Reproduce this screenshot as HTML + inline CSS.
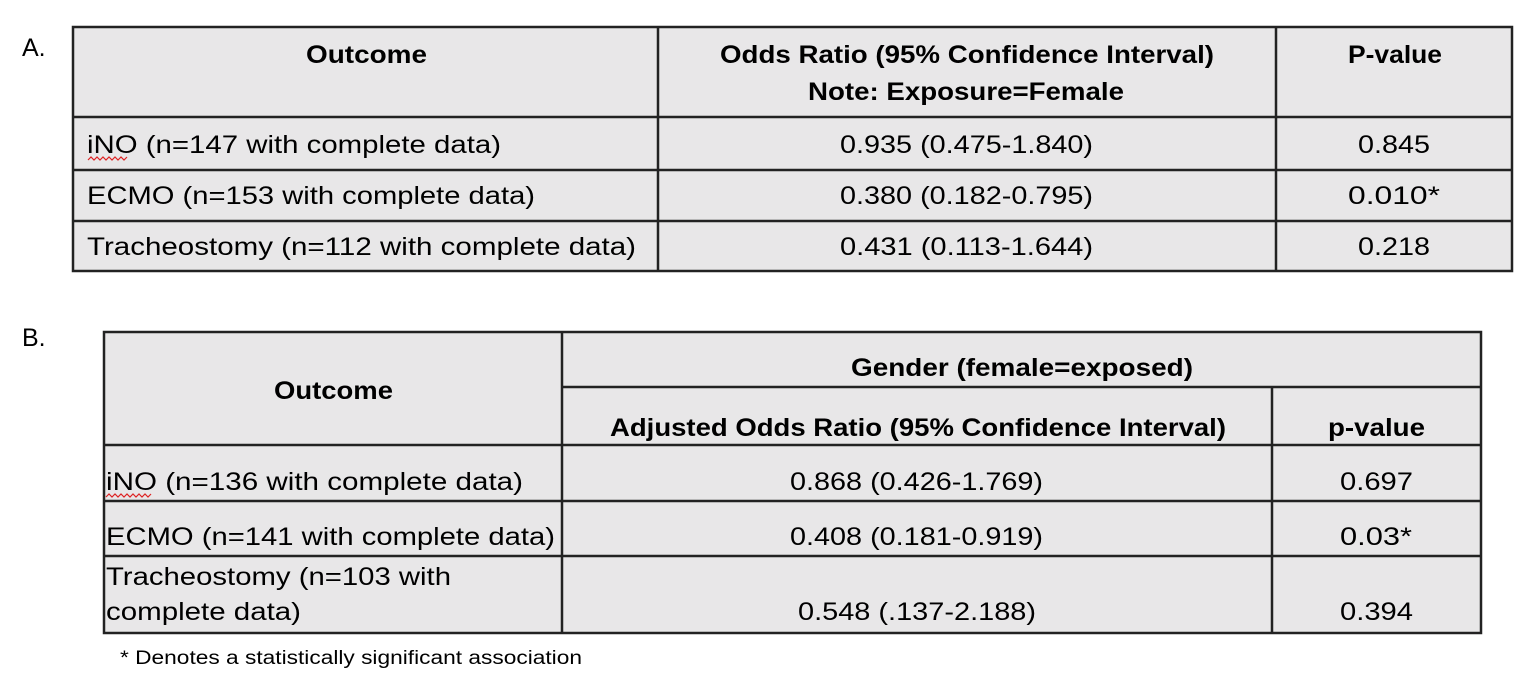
<!DOCTYPE html>
<html><head><meta charset="utf-8"><style>
html,body{margin:0;padding:0;background:#fff;}
svg{display:block;font-family:"Liberation Sans",Arial,sans-serif;}
.t{font-size:25px;fill:#000;}
.b{font-size:25px;font-weight:bold;fill:#000;}
</style></head><body>
<svg width="1532" height="696" viewBox="0 0 1532 696">
<rect width="1532" height="696" fill="#fff"/>
<text class="t" x="22" y="56">A.</text>
<g stroke="#222" stroke-width="2.5">
<rect x="73" y="27" width="1439" height="244" fill="#e8e7e8"/>
<line x1="73" y1="117" x2="1512" y2="117"/>
<line x1="73" y1="170" x2="1512" y2="170"/>
<line x1="73" y1="221" x2="1512" y2="221"/>
<line x1="658" y1="27" x2="658" y2="271"/>
<line x1="1276" y1="27" x2="1276" y2="271"/>
</g>
<g>
<text class="b" x="306" y="63" textLength="121" lengthAdjust="spacingAndGlyphs">Outcome</text>
<text class="b" x="720" y="63" textLength="494" lengthAdjust="spacingAndGlyphs">Odds Ratio (95% Confidence Interval)</text>
<text class="b" x="808" y="100" textLength="316" lengthAdjust="spacingAndGlyphs">Note: Exposure=Female</text>
<text class="b" x="1348" y="63" textLength="94" lengthAdjust="spacingAndGlyphs">P-value</text>
</g>
<g>
<text class="t" x="87" y="153" textLength="414" lengthAdjust="spacingAndGlyphs">iNO (n=147 with complete data)</text>
<text class="t" x="840" y="153" textLength="253" lengthAdjust="spacingAndGlyphs">0.935 (0.475-1.840)</text>
<text class="t" x="1358" y="153" textLength="72" lengthAdjust="spacingAndGlyphs">0.845</text>
<text class="t" x="87" y="204" textLength="448" lengthAdjust="spacingAndGlyphs">ECMO (n=153 with complete data)</text>
<text class="t" x="840" y="204" textLength="253" lengthAdjust="spacingAndGlyphs">0.380 (0.182-0.795)</text>
<text class="t" x="1348" y="204" textLength="92" lengthAdjust="spacingAndGlyphs">0.010*</text>
<text class="t" x="87" y="255" textLength="549" lengthAdjust="spacingAndGlyphs">Tracheostomy (n=112 with complete data)</text>
<text class="t" x="840" y="255" textLength="253" lengthAdjust="spacingAndGlyphs">0.431 (0.113-1.644)</text>
<text class="t" x="1358" y="255" textLength="72" lengthAdjust="spacingAndGlyphs">0.218</text>
<path d="M88 160 l3 -3 l3 3 l3 -3 l3 3 l3 -3 l3 3 l3 -3 l3 3 l3 -3 l3 3 l3 -3 l3 3 l3 -3" fill="none" stroke="#d22" stroke-width="1.2"/>
</g>

<text class="t" x="22" y="346">B.</text>
<g stroke="#222" stroke-width="2.5">
<rect x="104" y="332" width="1377" height="301" fill="#e8e7e8"/>
<line x1="562" y1="387" x2="1481" y2="387"/>
<line x1="104" y1="445" x2="1481" y2="445"/>
<line x1="104" y1="501" x2="1481" y2="501"/>
<line x1="104" y1="556" x2="1481" y2="556"/>
<line x1="562" y1="332" x2="562" y2="633"/>
<line x1="1272" y1="387" x2="1272" y2="633"/>
</g>
<g>
<text class="b" x="274" y="399" textLength="119" lengthAdjust="spacingAndGlyphs">Outcome</text>
<text class="b" x="851" y="376" textLength="342" lengthAdjust="spacingAndGlyphs">Gender (female=exposed)</text>
<text class="b" x="610" y="436" textLength="616" lengthAdjust="spacingAndGlyphs">Adjusted Odds Ratio (95% Confidence Interval)</text>
<text class="b" x="1328" y="436" textLength="97" lengthAdjust="spacingAndGlyphs">p-value</text>
</g>
<g>
<text class="t" x="106" y="490" textLength="417" lengthAdjust="spacingAndGlyphs">iNO (n=136 with complete data)</text>
<text class="t" x="790" y="490" textLength="253" lengthAdjust="spacingAndGlyphs">0.868 (0.426-1.769)</text>
<text class="t" x="1340" y="490" textLength="73" lengthAdjust="spacingAndGlyphs">0.697</text>
<text class="t" x="106" y="545" textLength="449" lengthAdjust="spacingAndGlyphs">ECMO (n=141 with complete data)</text>
<text class="t" x="790" y="545" textLength="253" lengthAdjust="spacingAndGlyphs">0.408 (0.181-0.919)</text>
<text class="t" x="1340" y="545" textLength="72" lengthAdjust="spacingAndGlyphs">0.03*</text>
<text class="t" x="106" y="585" textLength="345" lengthAdjust="spacingAndGlyphs">Tracheostomy (n=103 with</text>
<text class="t" x="106" y="620" textLength="195" lengthAdjust="spacingAndGlyphs">complete data)</text>
<text class="t" x="798" y="620" textLength="238" lengthAdjust="spacingAndGlyphs">0.548 (.137-2.188)</text>
<text class="t" x="1340" y="620" textLength="73" lengthAdjust="spacingAndGlyphs">0.394</text>
<path d="M106 497 l3 -3 l3 3 l3 -3 l3 3 l3 -3 l3 3 l3 -3 l3 3 l3 -3 l3 3 l3 -3 l3 3 l3 -3 l3 3 l3 -3" fill="none" stroke="#d22" stroke-width="1.2"/>
</g>
<text x="120" y="664" font-size="19" textLength="462" lengthAdjust="spacingAndGlyphs">* Denotes a statistically significant association</text>
</svg>
</body></html>
